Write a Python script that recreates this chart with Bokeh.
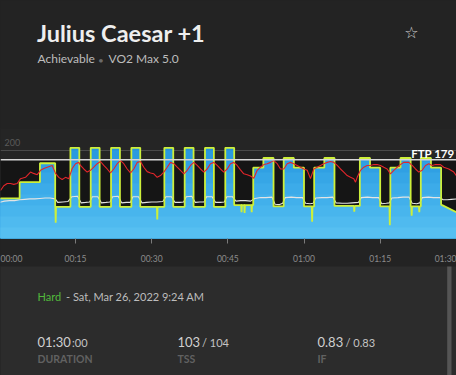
from bokeh.plotting import figure
from bokeh.layouts import column
from bokeh.models import Range1d, Label, Span, BoxAnnotation, FixedTicker
from bokeh.embed import file_html
from bokeh.resources import INLINE
from bokeh.core.properties import value

# ---------------- data ----------------
FTP = 179
GRID_W = 200

# workout / power steps (minutes, watts)
step_start = [0, 4, 8, 11, 14, 15.75, 18, 19.75, 22, 23.75, 26, 27.75,
              32.5, 34.25, 36.5, 38.25, 40.5, 42.25, 44.5, 46.25,
              50, 52, 54, 56, 58, 60, 62, 64, 66, 71, 73, 75, 77, 79, 81, 83, 85]
step_power = [91, 128, 171, 72, 206, 72, 206, 72, 206, 72, 206, 72,
              206, 72, 206, 72, 206, 72, 206, 76,
              161, 183, 73, 183, 161, 73, 161, 183, 74, 183, 161, 73, 161, 183, 73, 183, 161]
cool_t = [87, 90]
cool_w = [77, 60]

# short drops in actual power
dip_t = [11.1, 31.1, 47.7, 48.3, 49.7, 61.6, 69.9, 76.9, 81.2, 82.7]
dip_w = [36, 43, 60, 58, 60, 38, 61, 30, 52, 60]

# heart rate (bpm)
hr_t = [0.23, 0.88, 1.55, 2.2, 2.85, 3.52, 4.17, 5.15, 6.14, 6.73,
        7.46, 8.11, 8.76, 9.43, 10.41, 11.06, 11.71, 12.38, 13.03, 13.68,
        14.35, 15.0, 15.65, 15.98, 16.63, 17.3, 17.95, 18.6, 19.27, 19.92,
        20.57, 21.24, 21.89, 22.54, 23.21, 23.86, 24.51, 25.18, 25.83, 26.48,
        27.15, 27.8, 28.45, 29.12, 29.77, 30.42, 31.09, 31.74, 32.39, 33.06,
        33.71, 34.36, 35.03, 35.68, 36.33, 37.0, 37.65, 38.3, 38.97, 39.62,
        40.27, 40.93, 41.58, 42.24, 42.9, 43.56, 44.2, 44.87, 45.52, 46.17,
        46.84, 47.49, 48.14, 48.81, 49.46, 50.11, 50.78, 51.43, 52.08, 52.75,
        53.4, 54.05, 54.72, 55.37, 56.02, 56.69, 57.34, 57.99, 58.66, 59.31,
        59.96, 60.63, 61.28, 61.93, 62.6, 63.25, 63.9, 64.57, 65.22, 65.87,
        66.54, 67.19, 67.83, 68.5, 69.16, 69.8, 70.14, 70.47, 71.12, 71.77,
        72.44, 73.09, 73.74, 74.41, 75.06, 75.71, 76.38, 77.03, 77.68, 78.35,
        79.0, 79.65, 80.64, 81.3, 81.96, 82.6, 83.27, 83.92, 84.57, 85.24,
        85.89, 86.88, 87.53, 88.51, 89.5, 90.0]
hr_v = [109, 120, 125, 125, 123, 125, 136, 139, 151, 148,
        145, 155, 159, 162, 166, 148, 139, 134, 139, 136,
        159, 170, 173, 166, 158, 151, 155, 162, 170, 175,
        166, 158, 149, 158, 170, 177, 170, 158, 149, 158,
        173, 175, 162, 152, 149, 147, 139, 143, 151, 162,
        173, 170, 162, 155, 147, 155, 166, 173, 166, 158,
        151, 158, 170, 173, 166, 158, 151, 158, 170, 173,
        166, 156, 147, 145, 142, 137, 155, 162, 168, 170,
        173, 177, 170, 158, 158, 170, 173, 170, 166, 162,
        158, 155, 136, 158, 162, 166, 170, 173, 175, 173,
        166, 158, 151, 143, 139, 136, 128, 139, 155, 162,
        166, 166, 168, 168, 166, 162, 158, 147, 155, 162,
        168, 173, 173, 166, 158, 151, 155, 166, 170, 166,
        168, 168, 162, 158, 151, 143]

# cadence (rpm)
cad_t = [0, 1, 2, 3, 4, 5, 6, 7, 8, 9, 10, 11,
         11.5, 12.5, 13.5, 14.3, 15.4, 16.1, 17.0, 17.8, 18.3, 19.4, 20.1, 21.0, 21.8,
         22.3, 23.4, 24.1, 25.0, 25.8, 26.3, 27.4, 28.1, 29, 30, 31, 32.2,
         32.8, 33.9, 34.6, 35.5, 36.3, 36.8, 37.9, 38.6, 39.5, 40.3, 40.8, 41.9,
         42.6, 43.5, 44.3, 44.8, 45.9, 46.6, 47.5, 48.5, 49.5,
         50.3, 51.5, 52.5, 53.7, 54.3, 55.2, 55.8, 56.3, 57.5, 58.5, 59.7,
         60.3, 61.2, 61.8, 62.3, 63.5, 64.5, 65.7, 66.3, 67.5, 68.5, 69.5, 70.7,
         71.3, 72.5, 73.5, 74.7, 75.3, 76.2, 76.8, 77.3, 78.5, 79.5, 80.7,
         81.3, 82.2, 82.8, 83.3, 84.5, 85.5, 86.7, 87.4, 88.2, 89, 90]
cad_v = [82, 85, 86, 86, 88, 89, 90, 90, 91, 92, 92, 90,
         82, 83, 84, 95, 96, 81, 82, 83, 95, 95, 81, 82, 83,
         95, 96, 81, 82, 82, 95, 95, 81, 82, 83, 83, 84,
         95, 95, 82, 82, 83, 95, 96, 82, 83, 83, 95, 95,
         82, 82, 83, 95, 95, 85, 86, 86, 85,
         91, 93, 93, 94, 78, 77, 80, 93, 94, 93, 93,
         80, 79, 80, 92, 93, 93, 94, 81, 80, 80, 81, 82,
         93, 94, 93, 93, 79, 80, 81, 92, 93, 94, 94,
         80, 79, 81, 93, 94, 93, 93, 88, 88, 89, 90]

tick_minutes = [15, 30, 45, 60, 75]
tick_labels = ["00:15", "00:30", "00:45", "01:00", "01:15"]
edge_labels = ["00:00", "01:30"]

title = "Julius Caesar +1"
subtitle_a = "Achievable"
subtitle_b = "VO2 Max 5.0"
difficulty = "Hard"
date_text = "- Sat, Mar 26, 2022 9:24 AM"
duration_main, duration_sec = "01:30", ":00"
tss_main, tss_plan = "103", "/ 104"
if_main, if_plan = "0.83", "/ 0.83"

# ---------------- build power polyline ----------------
step_end = step_start[1:] + [cool_t[0]]
px, pw = [], []
for s, e, w in zip(step_start, step_end, step_power):
    px += [s, e]
    pw += [w, w]
px += cool_t
pw += cool_w
for dt, dw in zip(dip_t, dip_w):
    for i in range(len(px) - 1):
        if px[i] <= dt < px[i + 1]:
            base = pw[i]
            px[i + 1:i + 1] = [dt - 0.07, dt, dt + 0.07]
            pw[i + 1:i + 1] = [base, dw, base]
            break

# ---------------- layout constants ----------------
W = 456
PX_PER_MIN = 5.078
T0_PX = -1.17                      # screen x of 00:00


def t_at(xpix):
    return (xpix - T0_PX) / PX_PER_MIN


FONT = "Lato"
HDR_BG = "#232323"
CHART_BG = "#252525"
DARK = "#151515"
BOT_BG = "#2c2c2c"

# ---------------- header ----------------
hdr = figure(width=W, height=128, x_range=Range1d(0, W), y_range=Range1d(128, 0),
             toolbar_location=None, output_backend="svg",
             x_axis_location=None, y_axis_location=None, min_border=0,
             outline_line_color=None, background_fill_color=HDR_BG, border_fill_color=HDR_BG)
hdr.grid.visible = False
hdr.text(x=[36.5], y=[32.6], text=[title], text_font=value(FONT), text_font_style="bold",
         text_font_size="23.5px", text_color="#eeeeee", text_baseline="middle")
hdr.text(x=[37], y=[58.2], text=[subtitle_a], text_font=value(FONT),
         text_font_size="12px", text_color="#bdbdbd", text_baseline="middle")
hdr.text(x=[100.5], y=[59.3], text=["\u2022"], text_font=value(FONT), text_align="center",
         text_font_size="10px", text_color="#6a6a6a", text_baseline="middle")
hdr.text(x=[108], y=[58.2], text=[subtitle_b], text_font=value(FONT),
         text_font_size="12px", text_color="#bdbdbd", text_baseline="middle")
hdr.text(x=[411], y=[32], text=["\u2606"], text_font=value("DejaVu Sans"), text_align="center",
         text_font_size="16px", text_color="#cccccc", text_baseline="middle")

# ---------------- chart ----------------
p = figure(width=W, height=138, x_range=Range1d(t_at(0), t_at(W)), y_range=Range1d(0, 250),
           toolbar_location=None, output_backend="svg", y_axis_location=None,
           min_border_left=0, min_border_right=0, min_border_top=0, min_border_bottom=28,
           outline_line_color=None, background_fill_color=CHART_BG, border_fill_color=HDR_BG)
p.grid.visible = False
p.add_layout(BoxAnnotation(top=FTP, fill_color=DARK, fill_alpha=1.0, line_color=None, level="underlay"))
p.add_layout(Span(location=GRID_W, dimension="width", line_color="#4a4a4a", line_width=1, level="underlay"))

band_caps = [250, 200, 175, 150, 125, 100, 75, 50, 25]
band_cols = ["#2593dc", "#2a9ae0", "#30a0e3", "#36a6e6", "#3cabe9",
             "#42b0eb", "#48b5ed", "#4fbaef", "#56bff1"]
for cap, col in zip(band_caps, band_cols):
    p.varea(x=px, y1=[0] * len(px), y2=[min(v, cap) for v in pw], fill_color=col)

p.line(cad_t, cad_v, line_color="#e4e4e4", line_width=1.1)
p.line(px, pw, line_color="#cdef3a", line_width=1.8)
p.line(hr_t, hr_v, line_color="#e3262b", line_width=1.1)
p.add_layout(Span(location=FTP, dimension="width", line_color="#d6d6d6", line_width=1.6))

p.add_layout(Label(x=t_at(4), y=218, text=str(GRID_W), text_font=FONT, text_font_size="9px",
                   text_color="#5a5a5a", text_baseline="middle"))
p.add_layout(Label(x=t_at(454), y=194, text=f"FTP {FTP}", text_font=FONT, text_font_style="bold",
                   text_font_size="11.5px", text_color="#ffffff", text_align="right",
                   text_baseline="middle"))

# time axis: minor ticks mark the quarter hours, major ticks carry the labels
lab_ticks = [t_at(11)] + tick_minutes + [t_at(446)]
lab_text = [edge_labels[0]] + tick_labels + [edge_labels[1]]
ax = p.xaxis[0]
ax.ticker = FixedTicker(ticks=lab_ticks, minor_ticks=tick_minutes)
ax.major_label_overrides = {k: s for k, s in zip(lab_ticks, lab_text)}
ax.axis_line_color = None
ax.major_tick_line_color = None
ax.major_tick_in = 0
ax.major_tick_out = 0
ax.minor_tick_line_color = "#7a7a7a"
ax.minor_tick_line_width = 1
ax.minor_tick_in = 0
ax.minor_tick_out = 5
ax.major_label_standoff = 10
ax.major_label_text_color = "#8c8c8c"
ax.major_label_text_font = FONT
ax.major_label_text_font_size = "8.5px"

# ---------------- bottom panel ----------------
bot = figure(width=W, height=109, x_range=Range1d(0, W), y_range=Range1d(375, 266),
             toolbar_location=None, output_backend="svg",
             x_axis_location=None, y_axis_location=None, min_border=0,
             outline_line_color=None, background_fill_color=BOT_BG, border_fill_color=BOT_BG)
bot.grid.visible = False
bot.quad(left=[446.7], right=[451], top=[264], bottom=[375], fill_color="#555555", line_color=None)
bot.text(x=[37], y=[296.4], text=[difficulty], text_font=value(FONT), text_font_size="11px",
         text_color="#52b83c", text_baseline="middle")
bot.text(x=[65.5], y=[296.4], text=[date_text], text_font=value(FONT), text_font_size="11px",
         text_color="#bdbdbd", text_baseline="middle")
bot.text(x=[37, 177, 317], y=[341] * 3, text=[duration_main, tss_main, if_main],
         text_font=value(FONT), text_font_size="13px", text_color="#d0d0d0",
         text_baseline="middle")
bot.text(x=[71.5, 201.5, 345], y=[341.8] * 3, text=[duration_sec, tss_plan, if_plan],
         text_font=value(FONT), text_font_size="11px", text_color="#c4c4c4",
         text_baseline="middle")
bot.text(x=[37, 177, 317], y=[358.6] * 3, text=["DURATION", "TSS", "IF"],
         text_font=value(FONT), text_font_style="bold", text_font_size="10.5px",
         text_color="#616161", text_baseline="middle")

layout = column(hdr, p, bot, spacing=0, styles={"background-color": HDR_BG})
open("out.html", "w").write(file_html(layout, INLINE))
